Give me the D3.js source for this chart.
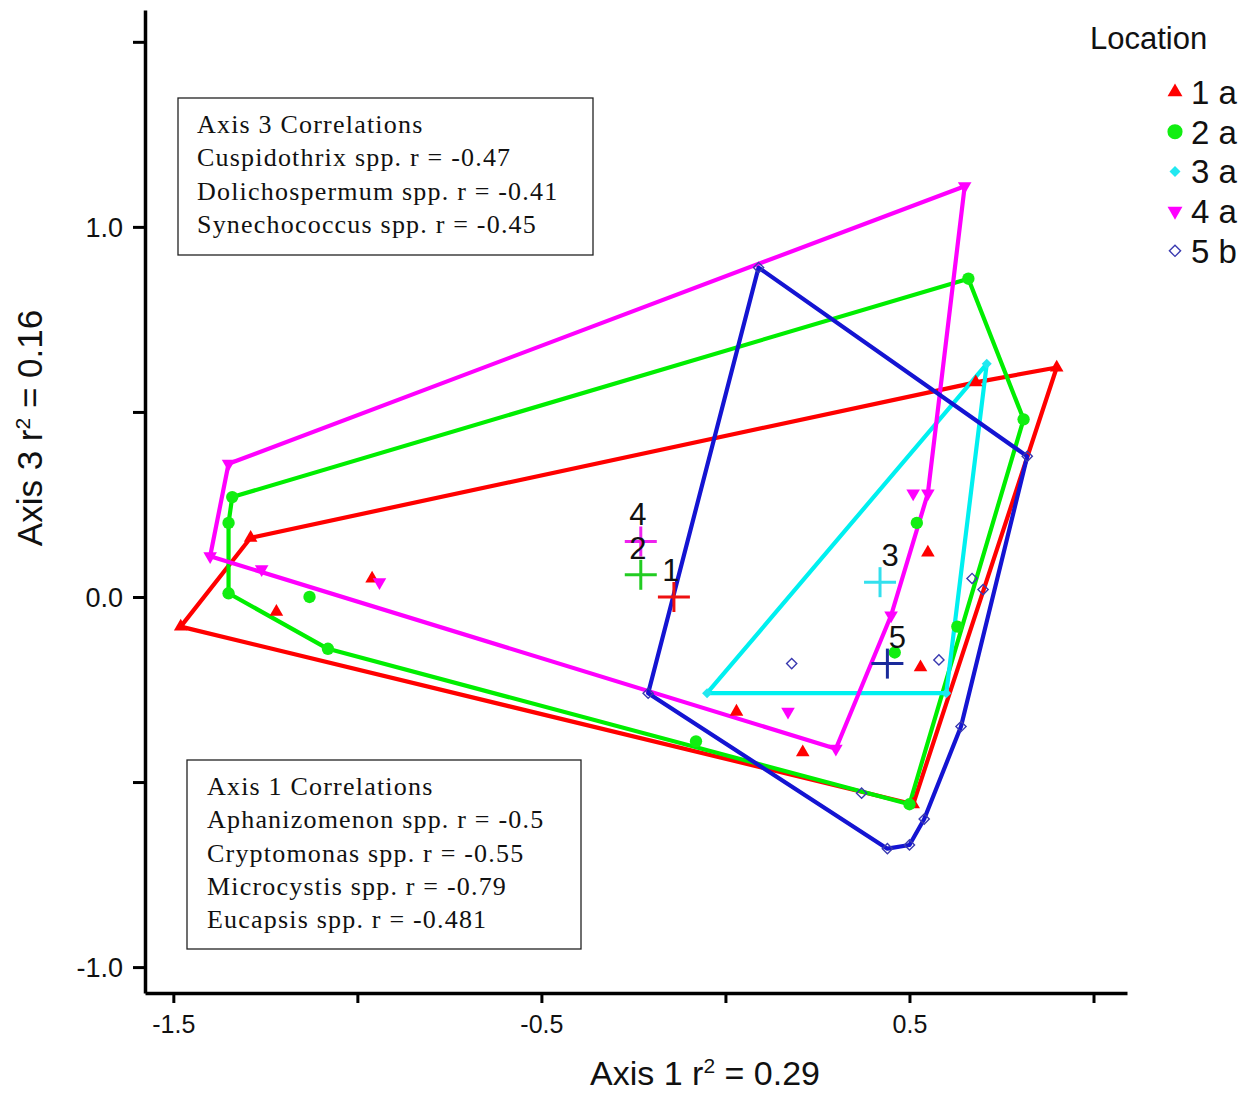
<!DOCTYPE html>
<html>
<head>
<meta charset="utf-8">
<script src="https://cdn.jsdelivr.net/npm/d3@7"></script>
<style>
  html, body { margin: 0; padding: 0; background: #fff; }
  svg { display: block; }
  .tick text { font-family: "Liberation Sans", Arial, sans-serif; }
</style>
</head>
<body>
<svg id="chart" width="1248" height="1095"></svg>
<script>
// Sample scores on ordination axes 1 and 3, one array per location
const loc1 = [[-1.48,-0.08],[-1.29,0.16],[0.90,0.62],[0.51,-0.56],[-1.22,-0.04],[-0.96,0.05],
              [0.03,-0.31],[0.21,-0.42],[0.53,-0.19],[0.55,0.12],[0.68,0.58]];
const loc2 = [[-1.34,0.27],[-1.35,0.20],[-1.35,0.01],[-1.13,0.00],[-1.08,-0.14],[-0.08,-0.39],
              [0.50,-0.56],[0.81,0.48],[0.66,0.86],[0.52,0.20],[0.46,-0.15],[0.63,-0.08]];
const loc3 = [[-0.05,-0.26],[0.71,0.63],[0.60,-0.26]];
const loc4 = [[-1.35,0.36],[0.65,1.11],[0.55,0.28],[0.51,0.28],[0.45,-0.05],[0.30,-0.41],
              [0.17,-0.31],[-0.94,0.04],[-1.26,0.075],[-1.40,0.11]];
const loc5 = [[0.09,0.89],[0.82,0.38],[0.64,-0.35],[0.54,-0.60],[0.50,-0.67],[0.44,-0.68],
              [-0.21,-0.26],[0.18,-0.18],[0.58,-0.17],[0.67,0.05],[0.70,0.02],[0.37,-0.53]];

// Group centroids
const centroidNames = ["1", "2", "3", "4", "5"];
const centroidX = [-0.14, -0.23, 0.42, -0.23, 0.44];
const centroidY = [0.00, 0.06, 0.04, 0.15, -0.18];

// Legend entries
const legendLabels = ["1 a", "2 a", "3 a", "4 a", "5 b"];

// Axis ticks
const xTicks = [-1.5, -1.0, -0.5, 0.0, 0.5, 1.0];
const xTickLabels = ["-1.5", "", "-0.5", "", "0.5", ""];
const yTicks = [-1.0, -0.5, 0.0, 0.5, 1.0, 1.5];
const yTickLabels = ["-1.0", "", "0.0", "", "1.0", ""];

// Correlation notes
const axis3Notes = ["Axis 3 Correlations", "Cuspidothrix spp. r = -0.47",
                    "Dolichospermum spp. r = -0.41", "Synechococcus spp. r = -0.45"];
const axis1Notes = ["Axis 1 Correlations", "Aphanizomenon spp. r = -0.5",
                    "Cryptomonas spp. r = -0.55", "Microcystis spp. r = -0.79",
                    "Eucapsis spp. r = -0.481"];

const groups = [loc1, loc2, loc3, loc4, loc5];
const lineColors = ["#ff0000", "#00ee00", "#00f0f0", "#ff00ff", "#1414d2"];
const centroidColors = ["#ee1111", "#22cc22", "#33e0ee", "#ee22ee", "#1a2a9a"];

const svg = d3.select("#chart");
const x = d3.scaleLinear().domain([-1.577, 1.091]).range([145, 1127]);
const y = d3.scaleLinear().domain([-1.070, 1.586]).range([993, 10]);

// Marker shapes per location
function marker(sel, i, scale) {
  const s = scale || 1;
  if (i === 0) {
    sel.append("path").attr("d", d3.symbol(d3.symbolTriangle, 80 * s)())
      .attr("fill", "#ff0000");
  } else if (i === 1) {
    sel.append("path").attr("d", d3.symbol(d3.symbolCircle, 120 * s)())
      .attr("fill", "#11ee11");
  } else if (i === 2) {
    sel.append("path").attr("d", d3.symbol(d3.symbolSquare, 50 * s)())
      .attr("transform", "rotate(45)").attr("fill", "#22e8f0");
  } else if (i === 3) {
    sel.append("path").attr("d", d3.symbol(d3.symbolTriangle, 80 * s)())
      .attr("transform", "rotate(180)").attr("fill", "#ff00ff");
  } else {
    sel.append("path").attr("d", d3.symbol(d3.symbolSquare, 52 * s)())
      .attr("transform", "rotate(45)")
      .attr("fill", "none").attr("stroke", "#3a3ab0").attr("stroke-width", 1.4);
  }
}

// Convex hulls
const hullLayer = svg.append("g");
groups.forEach((pts, i) => {
  const hull = d3.polygonHull(pts.map(p => [x(p[0]), y(p[1])]));
  hullLayer.append("path")
    .attr("d", "M" + hull.map(p => p.join(",")).join("L") + "Z")
    .attr("fill", "none")
    .attr("stroke", lineColors[i])
    .attr("stroke-width", 4.2)
    .attr("stroke-linejoin", "round");
});

// Sample points
const pointLayer = svg.append("g");
groups.forEach((pts, i) => {
  pts.forEach(p => {
    const g = pointLayer.append("g").attr("transform", `translate(${x(p[0])},${y(p[1])})`);
    marker(g, i);
  });
});

// Centroid crosses and labels
const cLayer = svg.append("g");
centroidNames.forEach((name, i) => {
  const cx = x(centroidX[i]), cy = y(centroidY[i]);
  cLayer.append("line").attr("x1", cx - 16).attr("x2", cx + 16).attr("y1", cy).attr("y2", cy)
    .attr("stroke", centroidColors[i]).attr("stroke-width", 3);
  cLayer.append("line").attr("x1", cx).attr("x2", cx).attr("y1", cy - 15).attr("y2", cy + 15)
    .attr("stroke", centroidColors[i]).attr("stroke-width", 3);
});
centroidNames.forEach((name, i) => {
  const cx = x(centroidX[i]), cy = y(centroidY[i]);
  cLayer.append("text").attr("x", cx + (i === 2 || i === 4 ? 10 : -3)).attr("y", cy - 16)
    .attr("text-anchor", "middle")
    .attr("font-family", "Liberation Sans, Arial, sans-serif")
    .attr("font-size", 31).attr("fill", "#111").text(name);
});

// Axes
const yAxis = svg.append("g").attr("transform", "translate(145,0)")
  .call(d3.axisLeft(y).tickValues(yTicks).tickSize(12).tickSizeOuter(0)
    .tickFormat((d, i) => yTickLabels[i]));
const xAxis = svg.append("g").attr("transform", "translate(0,993)")
  .call(d3.axisBottom(x).tickValues(xTicks).tickSize(10).tickSizeOuter(0)
    .tickFormat((d, i) => xTickLabels[i]));
[xAxis, yAxis].forEach(a => {
  a.select(".domain").attr("stroke", "#000").attr("stroke-width", 3.5);
  a.selectAll(".tick line").attr("stroke", "#000").attr("stroke-width", 3);
  a.selectAll(".tick text").attr("fill", "#111");
});
yAxis.selectAll(".tick text").attr("x", -22).attr("dy", "0.35em").attr("font-size", 27);
xAxis.selectAll(".tick text").attr("y", 22).attr("font-size", 25);

// Axis titles
svg.append("text").attr("x", 705).attr("y", 1085).attr("text-anchor", "middle")
  .attr("font-family", "Liberation Sans, Arial, sans-serif").attr("font-size", 34)
  .attr("fill", "#111")
  .html('Axis 1 r<tspan dy="-12" font-size="21">2</tspan><tspan dy="12"> = 0.29</tspan>');
svg.append("text").attr("transform", "translate(42,428) rotate(-90)").attr("text-anchor", "middle")
  .attr("font-family", "Liberation Sans, Arial, sans-serif").attr("font-size", 35)
  .attr("fill", "#111")
  .html('Axis 3 r<tspan dy="-12" font-size="21">2</tspan><tspan dy="12"> = 0.16</tspan>');

// Correlation boxes
function noteBox(lines, bx, by, bw, bh, tx, ty0) {
  svg.append("rect").attr("x", bx).attr("y", by).attr("width", bw).attr("height", bh)
    .attr("fill", "#fff").attr("stroke", "#222").attr("stroke-width", 1.3);
  lines.forEach((t, i) => {
    svg.append("text").attr("x", tx).attr("y", ty0 + i * 33.3)
      .attr("font-family", "Liberation Serif, Times New Roman, serif")
      .attr("font-size", 26).attr("letter-spacing", 1.2).attr("fill", "#111").text(t);
  });
}
noteBox(axis3Notes, 178, 98, 415, 157, 197, 133);
noteBox(axis1Notes, 187, 760, 394, 189, 207, 795);

// Legend
svg.append("text").attr("x", 1090).attr("y", 49)
  .attr("font-family", "Liberation Sans, Arial, sans-serif").attr("font-size", 31)
  .attr("fill", "#111").text("Location");
legendLabels.forEach((lab, i) => {
  const ly = 92 + i * 39.7;
  const g = svg.append("g").attr("transform", `translate(1175,${ly})`);
  marker(g, i, i === 1 ? 1.5 : 1.2);
  svg.append("text").attr("x", 1191).attr("y", ly + 12)
    .attr("font-family", "Liberation Sans, Arial, sans-serif").attr("font-size", 33)
    .attr("fill", "#111").text(lab);
});
</script>
</body>
</html>
